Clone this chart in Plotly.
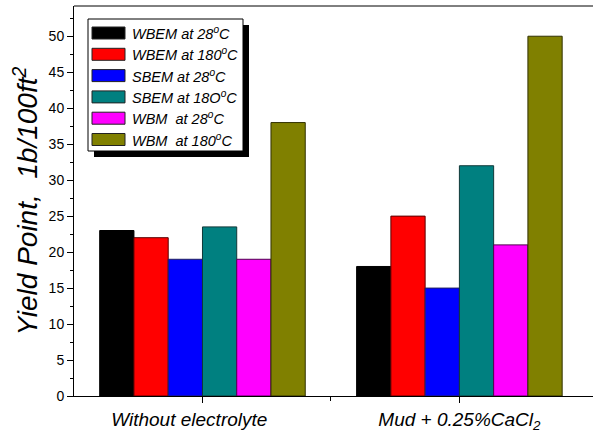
import plotly.graph_objects as go

categories = ["Without electrolyte&nbsp;&nbsp;&nbsp;&nbsp;&nbsp;", "Mud + 0.25%CaCl<sub>2</sub>"]
cat_pos = [0, 1]
series_names = [
    "WBEM at 28<sup>o</sup>C",
    "WBEM at 180<sup>o</sup>C",
    "SBEM at 28<sup>o</sup>C",
    "SBEM at 18O<sup>o</sup>C",
    "WBM&nbsp; at 28<sup>o</sup>C",
    "WBM&nbsp; at 180<sup>o</sup>C",
]
wbem_28 = [23, 18]
wbem_180 = [22, 25]
sbem_28 = [19, 15]
sbem_180 = [23.5, 32]
wbm_28 = [19, 21]
wbm_180 = [38, 50]
series_values = [wbem_28, wbem_180, sbem_28, sbem_180, wbm_28, wbm_180]
colors = ["#000000", "#FF0000", "#0000FF", "#008080", "#FF00FF", "#808000"]
edge_colors = ["#000000", "#5a0000", "#202060", "#103838", "#500050", "#303000"]

W, H = 593, 434
L, R, T, B = 74, 0, 6, 38
pw, ph = W - L - R, H - T - B

fig = go.Figure()
for name, vals, c, ec in zip(series_names, series_values, colors, edge_colors):
    fig.add_trace(go.Bar(x=cat_pos, y=vals, name=name, marker=dict(color=c, line=dict(color=ec, width=1)),
                         showlegend=False))

def px_x(p):
    return (p - L) / pw

def px_y(p):
    return (H - B - p) / ph

shapes = []
# top frame line
shapes.append(dict(type="line", xref="paper", yref="paper", x0=0, x1=1, y0=1, y1=1,
                   line=dict(color="black", width=1)))
# legend shadow and box
shapes.append(dict(type="rect", xref="paper", yref="paper", x0=px_x(94), x1=px_x(249),
                   y0=px_y(157), y1=px_y(25), fillcolor="black", line=dict(width=0)))
shapes.append(dict(type="rect", xref="paper", yref="paper", x0=px_x(88), x1=px_x(243),
                   y0=px_y(151), y1=px_y(19), fillcolor="white", line=dict(color="black", width=1)))
annotations = []
for i, (name, c, ec) in enumerate(zip(series_names, colors, edge_colors)):
    cy = 33 + 21.3 * i
    shapes.append(dict(type="rect", xref="paper", yref="paper", x0=px_x(92), x1=px_x(125),
                       y0=px_y(cy + 6), y1=px_y(cy - 6), fillcolor=c, line=dict(color="#222", width=1)))
    annotations.append(dict(xref="paper", yref="paper", x=px_x(130), y=px_y(cy), text=name,
                            showarrow=False, xanchor="left", yanchor="middle",
                            font=dict(family="Liberation Sans, Arial", size=14.5, color="black", style="italic")))

fig.update_layout(
    width=W, height=H,
    margin=dict(l=L, r=R, t=T, b=B),
    paper_bgcolor="white", plot_bgcolor="white",
    barmode="group", bargap=0.2, bargroupgap=0,
    shapes=shapes, annotations=annotations,
    xaxis=dict(range=[-0.5, 1.52], tickmode="array", tickvals=cat_pos, ticktext=categories,
               ticks="outside", ticklen=6, tickcolor="black", showline=True, linecolor="black",
               linewidth=1, showgrid=False, zeroline=False,
               minor=dict(tickvals=[0.5], ticks="outside", ticklen=4, tickcolor="black"),
               tickfont=dict(family="Liberation Sans, Arial", size=19, color="black", style="italic")),
    yaxis=dict(range=[0, 54.2], tickmode="linear", tick0=0, dtick=5,
               ticks="outside", ticklen=6, tickcolor="black", showline=True, linecolor="black",
               linewidth=1, showgrid=False, zeroline=False,
               minor=dict(dtick=2.5, ticks="outside", ticklen=3, tickcolor="black"),
               tickfont=dict(family="Liberation Sans, Arial", size=14, color="black"),
               title=dict(text="Yield Point,  1b/100ft<sup>2</sup>", standoff=2,
                          font=dict(family="Liberation Sans, Arial", size=28, color="black", style="italic"))),
)

fig.write_html("out.html")
